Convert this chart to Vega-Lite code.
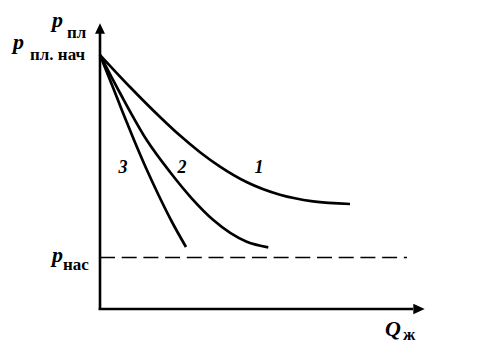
{
  "$schema": "https://vega.github.io/schema/vega-lite/v6.json",
  "width": 479,
  "height": 357,
  "autosize": {"type": "none"},
  "padding": 0,
  "background": "white",
  "config": {"view": {"stroke": null}},
  "datasets": {
    "curves": [
      {"curve": "1", "Q": 0, "p": 254}, {"curve": "1", "Q": 30, "p": 222}, {"curve": "1", "Q": 60, "p": 192}, {"curve": "1", "Q": 80, "p": 173.4}, {"curve": "1", "Q": 100, "p": 156.8}, {"curve": "1", "Q": 120, "p": 142.4}, {"curve": "1", "Q": 147, "p": 126.7}, {"curve": "1", "Q": 180, "p": 114.2}, {"curve": "1", "Q": 213, "p": 107.6}, {"curve": "1", "Q": 250, "p": 105},
      {"curve": "2", "Q": 0, "p": 254}, {"curve": "2", "Q": 20, "p": 216}, {"curve": "2", "Q": 46.7, "p": 169}, {"curve": "2", "Q": 70, "p": 137}, {"curve": "2", "Q": 91.7, "p": 110.7}, {"curve": "2", "Q": 113.3, "p": 89}, {"curve": "2", "Q": 146.7, "p": 67.3}, {"curve": "2", "Q": 168.3, "p": 61.7},
      {"curve": "3", "Q": 0, "p": 254}, {"curve": "3", "Q": 12, "p": 224}, {"curve": "3", "Q": 23, "p": 196}, {"curve": "3", "Q": 34, "p": 169}, {"curve": "3", "Q": 46, "p": 141}, {"curve": "3", "Q": 59, "p": 113}, {"curve": "3", "Q": 72, "p": 87}, {"curve": "3", "Q": 86, "p": 62}
    ],
    "axes": [
      {"ax": "y", "Q": 0, "p": -1},
      {"ax": "y", "Q": 0, "p": 276},
      {"ax": "x", "Q": -1.3, "p": 0},
      {"ax": "x", "Q": 313, "p": 0}
    ],
    "pnas": [
      {"Q": 0, "p": 51.5},
      {"Q": 307, "p": 51.5}
    ],
    "arrowUp": [{"Q": 0, "p": 280.5}],
    "arrowRight": [{"Q": 319, "p": 0}],
    "bigLabels": [
      {"t": "p", "Q": -48, "p": 282},
      {"t": "p", "Q": -87, "p": 260},
      {"t": "p", "Q": -48, "p": 47},
      {"t": "Q", "Q": 285, "p": -27}
    ],
    "subLabels": [
      {"t": "пл", "Q": -33, "p": 271},
      {"t": "пл. нач", "Q": -70, "p": 249},
      {"t": "нас", "Q": -37, "p": 39},
      {"t": "ж", "Q": 303, "p": -31}
    ],
    "numLabels": [
      {"t": "1", "Q": 159, "p": 136},
      {"t": "2", "Q": 82, "p": 136},
      {"t": "3", "Q": 23, "p": 136}
    ]
  },
  "encoding": {
    "x": {"field": "Q", "type": "quantitative", "scale": {"domain": [-100, 379], "nice": false, "zero": false}, "axis": null},
    "y": {"field": "p", "type": "quantitative", "scale": {"domain": [-48, 309], "nice": false, "zero": false}, "axis": null}
  },
  "layer": [
    {
      "data": {"name": "axes"},
      "mark": {"type": "line", "color": "black", "strokeWidth": 2.6, "strokeCap": "butt"},
      "encoding": {"detail": {"field": "ax"}, "order": {"field": "p"}}
    },
    {
      "data": {"name": "pnas"},
      "mark": {"type": "line", "color": "black", "strokeWidth": 1.6, "strokeDash": [15, 6.7], "strokeCap": "butt"},
      "encoding": {}
    },
    {
      "data": {"name": "curves"},
      "mark": {"type": "line", "color": "black", "strokeWidth": 2.7, "interpolate": "monotone", "strokeCap": "butt", "strokeJoin": "round"},
      "encoding": {"detail": {"field": "curve"}}
    },
    {
      "data": {"name": "arrowUp"},
      "mark": {"type": "point", "shape": "M0,-1L0.95,1L-0.95,1Z", "size": 110, "filled": true, "color": "black", "opacity": 1}
    },
    {
      "data": {"name": "arrowRight"},
      "mark": {"type": "point", "shape": "M1,0L-1,0.9L-1,-0.9Z", "size": 130, "filled": true, "color": "black", "opacity": 1}
    },
    {
      "data": {"name": "bigLabels"},
      "mark": {"type": "text", "font": "Liberation Serif", "fontStyle": "italic", "fontWeight": "bold", "fontSize": 22, "align": "left", "baseline": "alphabetic", "color": "black"},
      "encoding": {"text": {"field": "t"}}
    },
    {
      "data": {"name": "subLabels"},
      "mark": {"type": "text", "font": "Liberation Serif", "fontWeight": "bold", "fontSize": 17, "align": "left", "baseline": "alphabetic", "color": "black"},
      "encoding": {"text": {"field": "t"}}
    },
    {
      "data": {"name": "numLabels"},
      "mark": {"type": "text", "font": "Liberation Serif", "fontStyle": "italic", "fontWeight": "bold", "fontSize": 18, "align": "center", "baseline": "alphabetic", "color": "black"},
      "encoding": {"text": {"field": "t"}}
    }
  ]
}
